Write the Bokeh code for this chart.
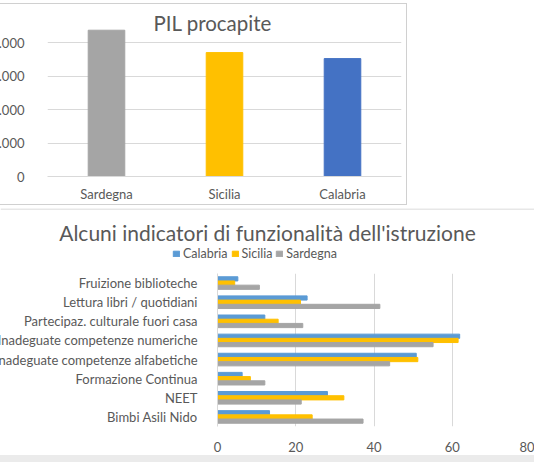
from bokeh.plotting import figure
from bokeh.layouts import column
from bokeh.models import (FactorRange, Range1d, FixedTicker, Label, Legend, LegendItem,
                          ColumnDataSource, Span, Spacer)
from bokeh.transform import dodge
from bokeh.embed import file_html
from bokeh.resources import INLINE

# ---- data: PIL procapite ----
pil_regions = ["Sardegna", "Sicilia", "Calabria"]
pil_values = [21900, 18550, 17650]
pil_colors = ["#A5A5A5", "#FFC000", "#4472C4"]
pil_ticks = [0, 5000, 10000, 15000, 20000]
pil_tick_labels = ["0", "5.000", "10.000", "15.000", "20.000"]

# ---- data: indicatori istruzione ----
indicators = [
    "Fruizione biblioteche",
    "Lettura libri / quotidiani",
    "Partecipaz. culturale fuori casa",
    "Inadeguate competenze numeriche",
    "Inadeguate competenze alfabetiche",
    "Formazione Continua",
    "NEET",
    "Bimbi Asili Nido",
]
calabria = [5.2, 22.9, 12.1, 61.9, 50.8, 6.3, 28.1, 13.3]
sicilia = [4.4, 21.2, 15.5, 61.5, 51.2, 8.4, 32.3, 24.2]
sardegna = [10.7, 41.5, 21.8, 55.1, 44.0, 12.1, 21.4, 37.2]
series_names = ["Calabria", "Sicilia", "Sardegna"]
series_colors = ["#5B9BD5", "#FFC000", "#A5A5A5"]
x_ticks = [0, 20, 40, 60, 80]

TXT = "#595959"
FONT = "Lato"
GRID = "#D9D9D9"
LINE = "#D0D0D0"
BORDER = "1px solid " + LINE

# ---------------- top chart ----------------
src1 = ColumnDataSource(dict(reg=pil_regions, val=pil_values, col=pil_colors))
p1 = figure(x_range=FactorRange(*pil_regions), y_range=Range1d(0, 24700), title=None,
            width=427, height=202, output_backend="svg", toolbar_location=None,
            min_border_left=62, min_border_right=6, min_border_top=7, min_border_bottom=30,
            frame_align=False,
            styles={"position": "relative", "left": "-20px",
                    "border-top": BORDER, "border-right": BORDER, "border-bottom": BORDER})
p1.vbar(x="reg", top="val", width=0.31, color="col", source=src1)
p1.outline_line_color = None
p1.xgrid.grid_line_color = None
p1.ygrid.grid_line_color = GRID
p1.yaxis.ticker = FixedTicker(ticks=pil_ticks)
p1.yaxis.major_label_overrides = {t: l for t, l in zip(pil_ticks, pil_tick_labels)}
p1.yaxis.axis_line_color = None
p1.yaxis.major_tick_line_color = None
p1.yaxis.minor_tick_line_color = None
p1.yaxis.major_label_standoff = 17
p1.xaxis.axis_line_color = GRID
p1.xaxis.major_tick_line_color = None
p1.xaxis.major_label_standoff = 3
for ax in (p1.xaxis, p1.yaxis):
    ax.major_label_text_font = FONT
    ax.major_label_text_font_size = "13px"
    ax.major_label_text_color = TXT
p1.add_layout(Label(x=1.40, y=23000, text="PIL procapite", text_align="center",
                    text_baseline="middle", text_font=FONT, text_font_size="20.5px",
                    text_color=TXT))

# ---------------- bottom chart: header (title + legend) ----------------
head = figure(x_range=Range1d(0, 534), y_range=Range1d(0, 65), title=None,
              width=534, height=65, output_backend="svg", toolbar_location=None,
              x_axis_type=None, y_axis_type=None,
              min_border_left=0, min_border_right=0, min_border_top=0, min_border_bottom=0,
              frame_align=False, margin=(3, 0, 0, 0))
head.outline_line_color = None
head.grid.visible = False
head.add_layout(Span(location=64.5, dimension="width", line_color=LINE, line_width=1))
proxies = [head.rect(x=[float("nan")], y=[float("nan")], width=1, height=1, color=c)
           for c in series_colors]
head.add_layout(Legend(items=[LegendItem(label=n, renderers=[r]) for n, r in zip(series_names, proxies)],
                       location=(172, 12), orientation="horizontal",
                       glyph_width=8, glyph_height=7, label_standoff=3, spacing=3,
                       padding=0, margin=0, label_height=14,
                       label_text_font=FONT, label_text_font_size="12.5px", label_text_color=TXT,
                       border_line_color=None, background_fill_alpha=0))
head.add_layout(Label(x=267, y=41.5, text="Alcuni indicatori di funzionalità dell'istruzione",
                      text_align="center", text_baseline="middle", text_font=FONT,
                      text_font_size="21px", text_color=TXT))

# ---------------- bottom chart: bars ----------------
src2 = ColumnDataSource(dict(ind=indicators, Calabria=calabria, Sicilia=sicilia, Sardegna=sardegna))
p2 = figure(y_range=FactorRange(*reversed(indicators)), x_range=Range1d(0, 80), title=None,
            width=554, height=182, output_backend="svg", toolbar_location=None,
            min_border_left=237, min_border_right=4, min_border_top=0, min_border_bottom=29,
            frame_align=False,
            styles={"position": "relative", "left": "-20px"})
for name, color, off in zip(series_names, series_colors, [0.22, 0.0, -0.22]):
    p2.hbar(y=dodge("ind", off, range=p2.y_range), right=name, left=0, height=0.22,
            color=color, source=src2)
p2.outline_line_color = None
p2.ygrid.grid_line_color = None
p2.xgrid.grid_line_color = GRID
p2.xaxis.ticker = FixedTicker(ticks=x_ticks)
p2.xaxis.axis_line_color = None
p2.xaxis.major_tick_line_color = None
p2.xaxis.minor_tick_line_color = None
p2.xaxis.major_label_standoff = 9
p2.yaxis.axis_line_color = GRID
p2.yaxis.major_tick_line_color = None
p2.yaxis.major_label_standoff = 14
for ax in (p2.xaxis, p2.yaxis):
    ax.major_label_text_font = FONT
    ax.major_label_text_font_size = "13px"
    ax.major_label_text_color = TXT

band = Spacer(width=534, height=7, styles={"background-color": "#EBEBEB"})

layout = column(p1, head, p2, band, styles={"position": "absolute", "left": "0px", "top": "3px"})
open("out.html", "w").write(file_html(layout, INLINE))
